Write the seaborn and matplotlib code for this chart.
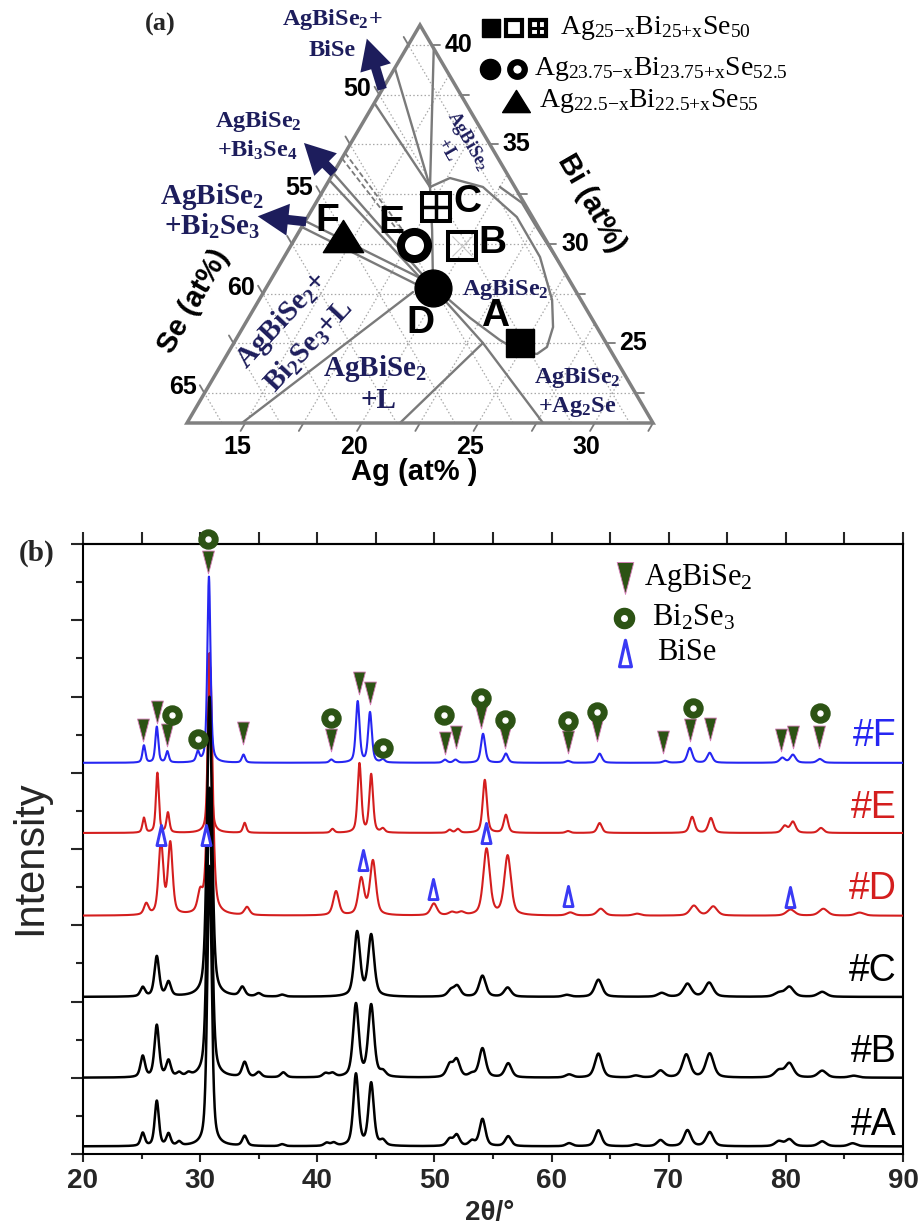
import numpy as np
import matplotlib
matplotlib.use("Agg")
import matplotlib.pyplot as plt
from matplotlib.path import Path
from matplotlib.patches import FancyArrowPatch, Polygon
from matplotlib.ticker import MultipleLocator
import seaborn as sns
import pandas as pd

sns.set_style("ticks")
plt.rcParams['font.family'] = ['Liberation Sans', 'DejaVu Sans']
plt.rcParams['mathtext.default'] = 'regular'

# ============================ DATA ============================
# ---- panel (b): XRD peak lists (2theta in deg, peak height in a.u.) ----
SAMPLE_NAMES = ["#A", "#B", "#C", "#D", "#E", "#F"]
SAMPLE_OFFSETS = [0.20, 2.00, 4.12, 6.25, 8.42, 10.26]
SAMPLE_FWHM = [0.38, 0.42, 0.43, 0.42, 0.27, 0.27]

A_POS = [25.1, 26.3, 27.3, 28.2, 30.8, 33.8, 37.0, 40.8, 41.4, 43.3, 44.6, 45.6, 51.3, 51.9, 53.2, 54.1,
         56.3, 61.5, 64.0, 67.2, 69.3, 71.6, 73.5, 79.4, 80.3, 83.1, 85.7]
A_H = [0.34, 1.18, 0.31, 0.10, 7.35, 0.26, 0.05, 0.08, 0.08, 1.88, 1.64, 0.13, 0.18, 0.29, 0.13, 0.71,
       0.26, 0.08, 0.42, 0.05, 0.16, 0.42, 0.37, 0.13, 0.18, 0.13, 0.08]
B_POS = [25.1, 26.3, 27.3, 28.2, 29.0, 30.8, 33.8, 35.0, 37.1, 40.7, 41.3, 43.3, 44.6, 45.6, 51.3, 51.9,
         53.2, 54.1, 56.3, 61.5, 64.0, 67.2, 69.3, 71.5, 73.5, 79.4, 80.3, 83.1, 85.8]
B_H = [0.55, 1.36, 0.42, 0.10, 0.08, 7.60, 0.39, 0.13, 0.13, 0.10, 0.10, 1.91, 1.88, 0.13, 0.32, 0.45,
       0.08, 0.76, 0.37, 0.08, 0.63, 0.05, 0.18, 0.60, 0.63, 0.18, 0.37, 0.18, 0.05]
C_POS = [25.1, 26.3, 27.3, 30.8, 33.6, 35.0, 37.0, 43.4, 44.6, 51.4, 51.95, 54.1, 56.25, 61.3, 64.0,
         69.4, 71.6, 73.45, 79.4, 80.3, 83.1]
C_H = [0.24, 1.05, 0.37, 7.87, 0.24, 0.08, 0.05, 1.68, 1.60, 0.16, 0.27, 0.55, 0.24, 0.05, 0.45,
       0.10, 0.34, 0.37, 0.10, 0.26, 0.13]
D_POS = [25.4, 26.65, 27.45, 30.0, 30.85, 34.0, 41.6, 43.75, 44.75, 49.95, 51.5, 52.3, 54.45, 56.25,
         61.6, 64.2, 67.3, 72.15, 73.8, 80.4, 83.2, 86.3]
D_H = [0.29, 1.92, 1.86, 0.48, 6.50, 0.21, 0.63, 0.95, 1.42, 0.31, 0.08, 0.08, 1.74, 1.56,
       0.08, 0.18, 0.05, 0.26, 0.24, 0.16, 0.18, 0.08]
E_POS = [25.2, 26.35, 27.25, 30.8, 33.8, 41.3, 43.6, 44.6, 45.6, 51.3, 52.0, 54.3, 56.1, 61.4, 64.1,
         72.0, 73.6, 79.9, 80.6, 83.0]
E_H = [0.39, 1.57, 0.52, 4.72, 0.26, 0.10, 1.81, 1.52, 0.10, 0.08, 0.10, 1.39, 0.47, 0.05, 0.26,
       0.42, 0.39, 0.18, 0.29, 0.13]
F_POS = [25.2, 26.3, 27.2, 29.8, 30.75, 33.7, 41.2, 43.45, 44.5, 45.6, 50.9, 51.8, 54.15, 56.1, 61.4,
         64.1, 69.7, 71.8, 73.5, 79.7, 80.6, 82.9]
F_H = [0.45, 0.94, 0.29, 0.26, 4.88, 0.21, 0.08, 1.60, 1.31, 0.08, 0.08, 0.08, 0.76, 0.24, 0.05,
       0.24, 0.05, 0.39, 0.26, 0.13, 0.21, 0.10]

# phase markers (2theta, a.u.)
AGBISE2_X = [25.1, 26.3, 27.2, 30.7, 33.7, 41.2, 43.6, 44.5, 50.9, 51.8, 54.0, 56.0, 61.4, 63.9, 69.5,
             71.8, 73.5, 79.6, 80.6, 82.8]
AGBISE2_Y = [11.13, 11.60, 11.00, 15.54, 11.05, 10.87, 12.36, 12.10, 10.79, 10.94, 11.47, 10.94, 10.81,
             11.13, 10.81, 11.13, 11.15, 10.87, 10.94, 10.94]
BI2SE3_X = [27.6, 29.8, 30.7, 41.2, 45.6, 50.8, 54.0, 56.0, 61.4, 63.9, 72.1, 82.9]
BI2SE3_Y = [11.52, 10.89, 16.14, 11.44, 10.66, 11.52, 11.97, 11.39, 11.36, 11.60, 11.71, 11.57]
BISE_X = [26.7, 30.5, 54.4, 43.9, 49.9, 61.4, 80.35]
BISE_Y = [8.37, 8.37, 8.43, 7.72, 6.95, 6.77, 6.75]
PHASE_NAMES = ["AgBiSe$_2$", "Bi$_2$Se$_3$", "BiSe"]

# ---- panel (a): ternary Ag-Bi-Se (at%) ----
TERN_AG = [12.5, 32.5, 12.5]          # corners
TERN_BI = [21.0, 21.0, 41.0]
AG_LABELS = [15, 20, 25, 30]
SE_LABELS = [50, 55, 60, 65]
BI_LABELS = [25, 30, 35, 40]
COMP_NAMES = ["A", "B", "C", "D", "E", "F"]
COMP_AG = [24.80, 19.85, 17.76, 19.67, 17.77, 14.50]
COMP_BI = [25.00, 29.90, 31.85, 27.78, 29.94, 30.40]

LENS_AG = [17.00, 17.63, 19.27, 21.48, 23.48, 25.08, 25.80, 26.04, 25.79, 25.01, 23.84, 22.01, 20.52, 19.67, 18.17, 17.00]
LENS_BI = [32.86, 33.31, 32.86, 31.35, 29.34, 27.18, 25.82, 24.82, 24.47, 24.57, 25.17, 26.28, 27.28, 27.78, 30.70, 32.86]
EDGE_CURVE_AG = [20.00, 21.35, 22.47, 23.52, 24.41]
EDGE_CURVE_BI = [32.86, 32.06, 30.95, 29.94, 29.09]
TOP_L1_AG = [12.50, 17.00]
TOP_L1_BI = [37.08, 32.86]
TOP_L2_AG = [12.50, 17.00]
TOP_L2_BI = [38.84, 32.86]
TOP_L3_AG = [13.68, 17.00]
TOP_L3_BI = [39.82, 32.86]
BI2SE3_TIE1_AG = [12.50, 19.41]
BI2SE3_TIE1_BI = [31.15, 28.04]
BI2SE3_TIE2_AG = [12.50, 19.61]
BI2SE3_TIE2_BI = [30.85, 27.63]
BI3SE4_TIE1_AG = [12.50, 19.27]
BI3SE4_TIE1_BI = [33.56, 28.14]
BI3SE4_TIE2_AG = [12.50, 19.40]
BI3SE4_TIE2_BI = [33.21, 27.88]
DASH_TIE1_AG = [12.50, 17.47]
DASH_TIE1_BI = [34.57, 30.20]
DASH_TIE2_AG = [12.50, 17.55]
DASH_TIE2_BI = [34.30, 29.95]
LOW_L1_AG = [18.91, 14.86]
LOW_L1_BI = [27.58, 21.00]
LOW_L2_AG = [20.14, 23.19, 27.78]
LOW_L2_BI = [27.43, 25.02, 21.00]
LOW_L3_AG = [23.19, 21.64]
LOW_L3_BI = [25.02, 21.00]

# ============================ STYLE ============================
BLUE = '#2626f2'
RED = '#d41e1e'
GREEN = '#2c5314'
NAVY = '#1d1d5c'
GREY = '#7a7a7a'
W, H = 923, 1230

fig = plt.figure(figsize=(W / 100, H / 100), dpi=100)
fig.patch.set_facecolor('white')


def fx(px):
    return px / W


def fy(py):
    return 1 - py / H


# ============================ PANEL (a) ============================
axa = fig.add_axes([0, 1 - 490 / H, 1, 490 / H])
axa.set_xlim(0, W)
axa.set_ylim(490, 0)
axa.axis('off')

X0, Y0, SX, SY = 187.0, 423.0, 23.3, 19.9
AG0, BI0 = TERN_AG[0], TERN_BI[0]
SUM_R = TERN_AG[1] + TERN_BI[1]        # Ag+Bi on right edge


def tern(ag, bi):
    ag = np.asarray(ag, float)
    bi = np.asarray(bi, float)
    return X0 + ((ag - AG0) + 0.5 * (bi - BI0)) * SX, Y0 - (bi - BI0) * SY


# grid
gkw = dict(color='#a8a8a8', lw=0.9, ls=(0, (1.2, 1.8)), zorder=1)
for b in np.arange(22.5, 41, 2.5):
    axa.plot(*tern([AG0, SUM_R - b], [b, b]), **gkw)
for a in np.arange(15, 32.5, 2.5):
    axa.plot(*tern([a, a], [BI0, SUM_R - a]), **gkw)
for s in np.arange(47.5, 66.5, 2.5):
    t = 100 - s
    axa.plot(*tern([t - BI0, AG0], [BI0, t - AG0]), **gkw)

# ticks
tkw = dict(color=GREY, lw=1.3, zorder=3)
for a in np.arange(15, 32.6, 2.5):
    axa.plot(*tern([a, a], [BI0, BI0 - 0.4]), **tkw)
for b in np.arange(22.5, 41, 2.5):
    axa.plot(*tern([SUM_R - b, SUM_R - b + 0.35], [b, b]), **tkw)
for s in np.arange(47.5, 66.5, 2.5):
    t = 100 - s
    axa.plot(*tern([AG0, AG0 - 0.4], [t - AG0, t - AG0 + 0.4]), **tkw)

lab = dict(fontsize=18, fontweight='bold', color='black', zorder=6)
for a in AG_LABELS:
    x, y = tern(a, BI0)
    axa.text(x - 8, 447, str(a), ha='center', va='center', **lab)
for b in BI_LABELS:
    x, y = tern(SUM_R - b, b)
    axa.text(x + 13, y, str(b), ha='left', va='center', **lab)
for s in SE_LABELS:
    t = 100 - s
    x, y = tern(AG0, t - AG0)
    axa.text(x - 8, y - 6, str(s), ha='right', va='center', **lab)

# phase boundaries
bkw = dict(color=GREY, lw=1.7, zorder=2, solid_capstyle='round')
for ags, bis in [(LENS_AG, LENS_BI), (EDGE_CURVE_AG, EDGE_CURVE_BI), (TOP_L1_AG, TOP_L1_BI),
                 (TOP_L2_AG, TOP_L2_BI), (TOP_L3_AG, TOP_L3_BI), (BI2SE3_TIE1_AG, BI2SE3_TIE1_BI),
                 (BI2SE3_TIE2_AG, BI2SE3_TIE2_BI), (BI3SE4_TIE1_AG, BI3SE4_TIE1_BI),
                 (BI3SE4_TIE2_AG, BI3SE4_TIE2_BI), (LOW_L1_AG, LOW_L1_BI), (LOW_L2_AG, LOW_L2_BI),
                 (LOW_L3_AG, LOW_L3_BI)]:
    axa.plot(*tern(ags, bis), **bkw)
for ags, bis in [(DASH_TIE1_AG, DASH_TIE1_BI), (DASH_TIE2_AG, DASH_TIE2_BI)]:
    axa.plot(*tern(ags, bis), color=GREY, lw=1.3, ls=(0, (3, 1.5)), zorder=2)

# triangle frame
cx, cy = tern(TERN_AG, TERN_BI)
axa.add_patch(Polygon(np.column_stack([cx, cy]), closed=True, fill=False, edgecolor='#808080', lw=2.5,
                      zorder=3, joinstyle='miter'))

# composition markers
px_, py_ = tern(COMP_AG, COMP_BI)
tri_f = Path([(0, 0.8), (-1, -0.8), (1, -0.8), (0, 0.8)],
             [Path.MOVETO, Path.LINETO, Path.LINETO, Path.CLOSEPOLY])
axa.plot(px_[0], py_[0], 's', ms=19.5, mfc='black', mec='black', zorder=5)
axa.plot(px_[1], py_[1], 'x', ms=14, color='#c8c8c8', mew=0.8, zorder=5)
axa.plot(px_[1], py_[1], 's', ms=20, mfc='none', mec='black', mew=2.9, zorder=5)
axa.plot(px_[2], py_[2], 's', ms=20, mfc='white', mec='black', mew=2.9, zorder=5)
axa.plot(px_[2], py_[2], '+', ms=20, color='black', mew=2.5, zorder=5)
axa.plot(px_[3], py_[3], 'o', ms=26.5, mfc='black', mec='black', zorder=5)
axa.plot(px_[4], py_[4], 'o', ms=19.5, mfc='white', mec='black', mew=5.8, zorder=5)
axa.plot(px_[5], py_[5], marker=tri_f, ls='none', ms=29, mfc='black', mec='black', zorder=5)

big = dict(fontsize=28, fontweight='bold', color='black', ha='center', va='center', zorder=6)
for name, (ox, oy) in zip(COMP_NAMES, [(-25, -27), (30, -3), (31, -5), (-13, 35), (-23, -22), (-16, -15)]):
    i = COMP_NAMES.index(name)
    axa.text(px_[i] + ox, py_[i] + oy, name, **big)

# region labels
ser = dict(family=['Liberation Serif', 'DejaVu Serif'], fontweight='bold', color=NAVY,
           ha='center', va='center', zorder=6)
axa.text(332, 20, "AgBiSe$_2$+", fontsize=17.5, **ser)
axa.text(332, 50, "BiSe", fontsize=17.5, **ser)
axa.text(258, 122, "AgBiSe$_2$", fontsize=17.5, **ser)
axa.text(257, 150, "+Bi$_3$Se$_4$", fontsize=17.5, **ser)
axa.text(212, 196, "AgBiSe$_2$", fontsize=21, **ser)
axa.text(212, 226, "+Bi$_2$Se$_3$", fontsize=21, **ser)
axa.text(282, 320, "AgBiSe$_2$+", fontsize=21, rotation=47, rotation_mode='anchor', **ser)
axa.text(309, 346, "Bi$_2$Se$_3$+L", fontsize=21, rotation=47, rotation_mode='anchor', **ser)
axa.text(375, 369, "AgBiSe$_2$", fontsize=21, **ser)
axa.text(378, 400, "+L", fontsize=21, **ser)
axa.text(505, 289, "AgBiSe$_2$", fontsize=17.5, **ser)
axa.text(577, 377, "AgBiSe$_2$", fontsize=17.5, **ser)
axa.text(577, 407, "+Ag$_2$Se", fontsize=17.5, **ser)
axa.text(467, 141, "AgBiSe$_2$", fontsize=13, rotation=-60, rotation_mode='anchor', **ser)
axa.text(446, 150, "+L", fontsize=13, rotation=-60, rotation_mode='anchor', **ser)

# arrows
for (x1, y1), (x2, y2) in [((383, 92), (366, 36)), ((336, 175), (302, 141)), ((309, 222), (255, 216))]:
    axa.add_patch(FancyArrowPatch((x1, y1), (x2, y2),
                                  arrowstyle='simple,head_width=1.15,head_length=1.1,tail_width=0.34',
                                  mutation_scale=20, color=NAVY, lw=0, zorder=6))

# axis titles
ttl = dict(fontsize=21, fontweight='bold', color='black', ha='center', va='center', zorder=6)
axa.text(414, 472, "Ag (at% )", **ttl)
axa.text(194, 301, "Se (at%)", rotation=60, rotation_mode='anchor', **ttl)
axa.text(591, 203, "Bi (at%)", rotation=-60, rotation_mode='anchor', **ttl)
axa.text(160, 24, "(a)", fontsize=19, fontweight='bold', family=['Liberation Serif'],
         ha='center', va='center')

# composition legend
axa.plot(491, 28, 's', ms=13, mfc='black', mec='black')
axa.plot(514, 28, 's', ms=12, mfc='white', mec='black', mew=3)
axa.plot(538, 28, 's', ms=12, mfc='white', mec='black', mew=3)
axa.plot(538, 28, '+', ms=12, color='black', mew=2.2)
axa.plot(490, 69, 'o', ms=14.5, mfc='black', mec='black')
axa.plot(517, 69, 'o', ms=10.5, mfc='white', mec='black', mew=4.5)
axa.plot(516, 101, marker=tri_f, ls='none', ms=20, mfc='black', mec='black')
lg = dict(fontsize=20, family=['Liberation Serif', 'DejaVu Serif'], color='black', ha='left', va='baseline')
axa.text(560, 34, "Ag$_{25{-}x}$Bi$_{25{+}x}$Se$_{50}$", **lg)
axa.text(534, 75, "Ag$_{23.75{-}x}$Bi$_{23.75{+}x}$Se$_{52.5}$", **lg)
axa.text(539, 107, "Ag$_{22.5{-}x}$Bi$_{22.5{+}x}$Se$_{55}$", **lg)

# ============================ PANEL (b) ============================
axb = fig.add_axes([fx(83), fy(1154), (903 - 83) / W, (1154 - 544) / H])
axb.set_facecolor('none')
tt = np.arange(20, 90.0001, 0.01)


def profile(pos, hts, fwhm):
    y = np.zeros_like(tt)
    for c, a in zip(pos, hts):
        hw = 0.5 * fwhm * (1 + (c - 20) / 60)
        u = (tt - c) / hw
        y += a * (0.5 * np.exp(-np.log(2) * u ** 2) + 0.5 / (1 + u ** 2))
    return y


peaks = dict(zip(SAMPLE_NAMES, [(A_POS, A_H), (B_POS, B_H), (C_POS, C_H), (D_POS, D_H), (E_POS, E_H), (F_POS, F_H)]))
colors = dict(zip(SAMPLE_NAMES, ['black', 'black', 'black', RED, RED, BLUE]))
offs = dict(zip(SAMPLE_NAMES, SAMPLE_OFFSETS))
fwhm = dict(zip(SAMPLE_NAMES, SAMPLE_FWHM))

for name in ["#E", "#D", "#F", "#C", "#B", "#A"]:
    pos, hts = peaks[name]
    df = pd.DataFrame({'tt': tt, 'I': offs[name] + profile(pos, hts, fwhm[name])})
    sns.lineplot(data=df, x='tt', y='I', ax=axb, color=colors[name],
                 lw=1.8 if colors[name] == 'black' else 1.5, estimator=None, sort=False, zorder=3)

label_y = [0.76, 2.68, 4.80, 6.96, 9.08, 10.97]
for name, ly in zip(SAMPLE_NAMES, label_y):
    axb.text(89.45, ly, name, color=colors[name], fontsize=27, ha='right', va='center', zorder=6)

tri_down = Path([(-0.52, 1), (0.52, 1), (0, -1), (-0.52, 1)],
                [Path.MOVETO, Path.LINETO, Path.LINETO, Path.CLOSEPOLY])
tri_up = Path([(-0.45, -1), (0.45, -1), (0, 1), (-0.45, -1)],
              [Path.MOVETO, Path.LINETO, Path.LINETO, Path.CLOSEPOLY])
axb.plot(AGBISE2_X, AGBISE2_Y, ls='none', marker=tri_down, ms=16.5, mfc=GREEN, mec='#d77ab8',
         mew=0.6, clip_on=False, zorder=7)
axb.plot(BI2SE3_X, BI2SE3_Y, ls='none', marker='o', ms=13.7, mfc=GREEN, mec=GREEN, clip_on=False, zorder=8)
axb.plot(BI2SE3_X, BI2SE3_Y, ls='none', marker='o', ms=3.6, mfc='white', mec='white', clip_on=False, zorder=9)
axb.plot(BISE_X, BISE_Y, ls='none', marker=tri_up, ms=14.5, mfc='white', mec='#3a3af4', mew=2.1,
         clip_on=False, zorder=7)

# phase legend
axb.plot([66.27], [15.12], ls='none', marker=tri_down, ms=23, mfc=GREEN, mec='#d77ab8', mew=0.6, zorder=7)
axb.plot([66.19], [14.07], ls='none', marker='o', ms=14.5, mfc=GREEN, mec=GREEN, zorder=8)
axb.plot([66.19], [14.07], ls='none', marker='o', ms=4, mfc='white', mec='white', zorder=9)
axb.plot([66.27], [13.15], ls='none', marker=tri_up, ms=19, mfc='white', mec='#3a3af4', mew=2.3, zorder=7)
pl = dict(fontsize=22, family=['Liberation Serif', 'DejaVu Serif'], color='black', ha='left', va='center')
for name, x, y in zip(PHASE_NAMES, [67.9, 68.6, 69.0], [15.12, 14.07, 13.15]):
    axb.text(x, y, name, **pl)

axb.set_xlim(20, 90)
axb.set_ylim(0, 16)
axb.set_xlabel('')
axb.set_ylabel('')
axb.xaxis.set_major_locator(MultipleLocator(10))
axb.xaxis.set_minor_locator(MultipleLocator(5))
axb.yaxis.set_major_locator(MultipleLocator(2))
axb.yaxis.set_minor_locator(MultipleLocator(1))
axb.tick_params(axis='x', which='major', direction='out', length=6, width=1.5, pad=4,
                labelsize=20, top=False, bottom=True)
axb.tick_params(axis='x', which='minor', direction='out', length=3.5, width=1.5, top=False, bottom=True)
axb.tick_params(axis='y', which='major', direction='out', length=8.6, width=1.5, labelleft=False, right=False)
axb.tick_params(axis='y', which='minor', direction='out', length=5, width=1.5, right=False)
for lbl in axb.get_xticklabels():
    lbl.set_fontweight('bold')
for sp in axb.spines.values():
    sp.set_visible(True)
    sp.set_linewidth(1.5)
    sp.set_color('black')

sec = axb.secondary_xaxis('top')
sec.set_xticks(np.arange(20, 91, 5))
sec.set_xticklabels([])
sec.tick_params(direction='out', length=8.6, width=1.5)
sec.spines['top'].set_linewidth(1.5)

fig.text(fx(30), fy(858), "Intensity", fontsize=30, rotation=90, ha='center', va='center')
fig.text(fx(490), fy(1213), "2θ/°", fontsize=20, fontweight='bold', ha='center', va='center')
fig.text(fx(37), fy(553), "(b)", fontsize=21, fontweight='bold', family=['Liberation Serif'],
         ha='center', va='center')

fig.savefig("out.png", dpi=100, facecolor='white')
